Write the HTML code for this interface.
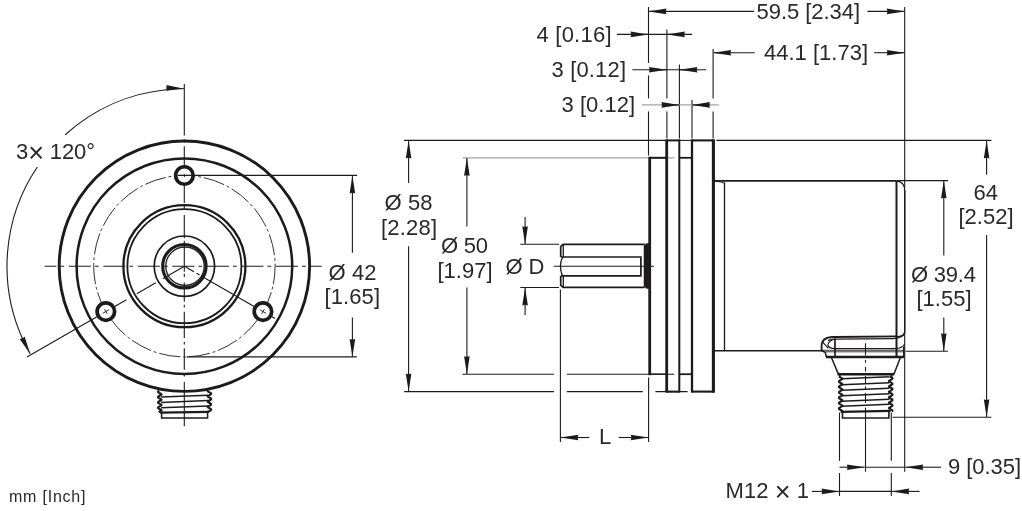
<!DOCTYPE html>
<html lang="en">
<head>
<meta charset="utf-8">
<title>Dimension drawing</title>
<style>
html,body{margin:0;padding:0;background:#fff;}
body{width:1022px;height:511px;overflow:hidden;}
svg{display:block;will-change:transform;}
svg text{font-family:"Liberation Sans",sans-serif;fill:#2b2829;}
</style>
</head>
<body>
<svg width="1022" height="511" viewBox="0 0 1022 511">
<rect x="0" y="0" width="1022" height="511" fill="#ffffff"/>
<line x1="462.6" y1="157.8" x2="674.2" y2="157.8" stroke="#a6a5a5" stroke-width="1.3"/>
<circle cx="184.40" cy="266.20" r="125.20" fill="none" stroke="#1d1a1b" stroke-width="2.9" />
<circle cx="184.40" cy="266.20" r="107.80" fill="none" stroke="#1d1a1b" stroke-width="2.5" />
<circle cx="184.40" cy="266.20" r="90.70" fill="none" stroke="#1d1a1b" stroke-width="0.9" stroke-dasharray="21.4 2.9 2.8 2.9" stroke-dashoffset="3.6"/>
<circle cx="184.40" cy="266.20" r="61.00" fill="none" stroke="#1d1a1b" stroke-width="2.3" />
<circle cx="184.40" cy="266.20" r="57.00" fill="none" stroke="#1d1a1b" stroke-width="1.8" />
<circle cx="184.40" cy="266.20" r="30.20" fill="none" stroke="#1d1a1b" stroke-width="1.7" />
<circle cx="184.40" cy="266.20" r="21.70" fill="none" stroke="#1d1a1b" stroke-width="3.1" />
<circle cx="185.00" cy="266.20" r="19.20" fill="none" stroke="#1d1a1b" stroke-width="1.3" />
<line x1="44.60" y1="266.20" x2="321.70" y2="266.20" stroke="#1d1a1b" stroke-width="1.1" stroke-dasharray="22 4 3.8 4.7" stroke-dashoffset="10.2"/>
<line x1="184.30" y1="84.10" x2="184.30" y2="135.40" stroke="#1d1a1b" stroke-width="1.1" />
<line x1="184.30" y1="139.30" x2="184.30" y2="142.60" stroke="#1d1a1b" stroke-width="1.1" />
<line x1="184.30" y1="146.20" x2="184.30" y2="165.60" stroke="#1d1a1b" stroke-width="1.1" />
<line x1="184.30" y1="185.40" x2="184.30" y2="202.90" stroke="#1d1a1b" stroke-width="1.1" />
<line x1="184.30" y1="206.00" x2="184.30" y2="208.60" stroke="#1d1a1b" stroke-width="1.1" />
<line x1="184.30" y1="215.00" x2="184.30" y2="238.20" stroke="#1d1a1b" stroke-width="1.1" />
<line x1="184.30" y1="240.70" x2="184.30" y2="271.80" stroke="#1d1a1b" stroke-width="1.1" />
<line x1="184.30" y1="273.70" x2="184.30" y2="277.00" stroke="#1d1a1b" stroke-width="1.1" />
<line x1="184.30" y1="282.40" x2="184.30" y2="301.70" stroke="#1d1a1b" stroke-width="1.1" />
<line x1="184.30" y1="304.70" x2="184.30" y2="307.60" stroke="#1d1a1b" stroke-width="1.1" />
<line x1="184.30" y1="311.70" x2="184.30" y2="338.10" stroke="#1d1a1b" stroke-width="1.1" />
<line x1="184.30" y1="341.70" x2="184.30" y2="344.50" stroke="#1d1a1b" stroke-width="1.1" />
<line x1="184.30" y1="348.20" x2="184.30" y2="369.70" stroke="#1d1a1b" stroke-width="1.1" />
<line x1="184.30" y1="373.00" x2="184.30" y2="376.40" stroke="#1d1a1b" stroke-width="1.1" />
<line x1="184.30" y1="382.00" x2="184.30" y2="426.20" stroke="#1d1a1b" stroke-width="1.1" />
<line x1="184.40" y1="266.20" x2="162.75" y2="278.70" stroke="#1d1a1b" stroke-width="1.1" />
<line x1="155.82" y1="282.70" x2="136.77" y2="293.70" stroke="#1d1a1b" stroke-width="1.1" />
<line x1="126.38" y1="299.70" x2="114.25" y2="306.70" stroke="#1d1a1b" stroke-width="1.1" />
<line x1="184.40" y1="266.20" x2="193.93" y2="271.70" stroke="#1d1a1b" stroke-width="1.1" />
<line x1="196.52" y1="273.20" x2="199.56" y2="274.95" stroke="#1d1a1b" stroke-width="1.1" />
<line x1="202.59" y1="276.70" x2="254.55" y2="306.70" stroke="#1d1a1b" stroke-width="1.1" />
<circle cx="184.40" cy="175.50" r="8.75" fill="#fff" stroke="#1d1a1b" stroke-width="3.7"/>
<line x1="184.40" y1="173.90" x2="184.40" y2="177.10" stroke="#1d1a1b" stroke-width="0.9" />
<circle cx="105.85" cy="311.55" r="8.75" fill="#fff" stroke="#1d1a1b" stroke-width="3.7"/>
<line x1="108.97" y1="309.75" x2="102.73" y2="313.35" stroke="#1d1a1b" stroke-width="0.9" />
<line x1="107.15" y1="313.80" x2="104.55" y2="309.30" stroke="#1d1a1b" stroke-width="0.9" />
<circle cx="262.95" cy="311.55" r="8.75" fill="#fff" stroke="#1d1a1b" stroke-width="3.7"/>
<line x1="259.83" y1="309.75" x2="266.07" y2="313.35" stroke="#1d1a1b" stroke-width="0.9" />
<line x1="264.25" y1="309.30" x2="261.65" y2="313.80" stroke="#1d1a1b" stroke-width="0.9" />
<line x1="96.93" y1="316.70" x2="26.96" y2="357.10" stroke="#1d1a1b" stroke-width="1.1" />
<line x1="271.87" y1="316.70" x2="275.16" y2="318.60" stroke="#1d1a1b" stroke-width="1.1" />
<path d="M168.32,89.53 A177.4,177.4 0 0 0 65.24,134.78" fill="none" stroke="#1d1a1b" stroke-width="1.1" />
<path d="M37.33,167.00 A177.4,177.4 0 0 0 23.62,341.17" fill="none" stroke="#1d1a1b" stroke-width="1.1" />
<polygon points="184.10,88.80 165.98,90.65 167.02,87.91 166.27,85.06" fill="#1d1a1b"/>
<line x1="166.12" y1="87.86" x2="183.90" y2="88.79" stroke="#1d1a1b" stroke-width="1.1" />
<polygon points="30.15,353.83 19.61,338.97 22.52,338.52 24.63,336.47" fill="#1d1a1b"/>
<line x1="22.12" y1="337.72" x2="30.06" y2="353.65" stroke="#1d1a1b" stroke-width="1.1" />
<line x1="177.60" y1="175.40" x2="357.20" y2="175.40" stroke="#1d1a1b" stroke-width="1.1" />
<line x1="186.60" y1="356.90" x2="356.80" y2="356.90" stroke="#1d1a1b" stroke-width="1.1" />
<line x1="352.40" y1="190.00" x2="352.40" y2="252.70" stroke="#1d1a1b" stroke-width="1.1" />
<line x1="352.40" y1="317.60" x2="352.40" y2="342.00" stroke="#1d1a1b" stroke-width="1.1" />
<polygon points="352.40,175.40 355.20,193.40 352.40,192.50 349.60,193.40" fill="#1d1a1b"/>
<line x1="352.40" y1="193.40" x2="352.40" y2="175.60" stroke="#1d1a1b" stroke-width="1.1" />
<polygon points="352.40,356.90 349.60,338.90 352.40,339.80 355.20,338.90" fill="#1d1a1b"/>
<line x1="352.40" y1="338.90" x2="352.40" y2="356.70" stroke="#1d1a1b" stroke-width="1.1" />
<polyline points="159.29,390.60 158.54,391.05 158.09,391.50 158.02,391.95 158.35,392.40 159.02,392.85 159.88,393.30 160.76,393.75 161.43,394.20 161.48,394.65 160.85,395.10 159.98,395.55 159.11,396.00 158.41,396.45 158.04,396.90 158.06,397.35 158.48,397.80 159.20,398.25 160.08,398.70 160.93,399.15 161.53,399.60 161.37,400.05 160.67,400.50 159.78,400.95 158.93,401.40 158.30,401.85 158.01,402.30 158.12,402.75 158.61,403.20 159.39,403.65 160.28,404.10 161.10,404.55 161.59,405.00 161.25,405.45 160.48,405.90 159.58,406.35 158.77,406.80 158.20,407.25 158.00,407.70 158.20,408.15 158.77,408.60 159.58,409.05 160.48,409.50 161.25,409.95 161.59,410.40 161.10,410.85 160.28,411.30 159.39,411.75 158.61,412.20" fill="none" stroke="#1d1a1b" stroke-width="2.1" stroke-linejoin="round"/>
<polyline points="208.03,390.60 207.60,391.05 208.03,391.50 208.82,391.95 209.72,392.40 210.51,392.85 211.04,393.30 211.20,393.75 210.95,394.20 210.35,394.65 209.52,395.10 208.63,395.55 207.89,396.00 207.64,396.45 208.18,396.90 209.02,397.35 209.91,397.80 210.66,398.25 211.11,398.70 211.18,399.15 210.85,399.60 210.18,400.05 209.32,400.50 208.44,400.95 207.77,401.40 207.72,401.85 208.35,402.30 209.22,402.75 210.09,403.20 210.79,403.65 211.16,404.10 211.14,404.55 210.72,405.00 210.00,405.45 209.12,405.90 208.27,406.35 207.67,406.80 207.83,407.25 208.53,407.70 209.42,408.15 210.27,408.60 210.90,409.05 211.19,409.50 211.08,409.95 210.59,410.40 209.81,410.85 208.92,411.30 208.10,411.75 207.61,412.20" fill="none" stroke="#1d1a1b" stroke-width="2.1" stroke-linejoin="round"/>
<line x1="161.10" y1="397.10" x2="208.10" y2="395.30" stroke="#1d1a1b" stroke-width="1.5" />
<line x1="161.10" y1="402.40" x2="208.10" y2="400.60" stroke="#1d1a1b" stroke-width="1.5" />
<line x1="161.10" y1="407.70" x2="208.10" y2="405.90" stroke="#1d1a1b" stroke-width="1.5" />
<line x1="160.10" y1="412.60" x2="209.10" y2="411.80" stroke="#1d1a1b" stroke-width="2.3" />
<path d="M161.60,412.6 V418.1 H207.60 V412.2" fill="none" stroke="#1d1a1b" stroke-width="1.5" />
<line x1="649.70" y1="156.80" x2="649.70" y2="375.20" stroke="#1d1a1b" stroke-width="2.8" />
<line x1="649.70" y1="157.80" x2="666.70" y2="157.80" stroke="#1d1a1b" stroke-width="2.0" />
<line x1="649.70" y1="374.20" x2="666.70" y2="374.20" stroke="#1d1a1b" stroke-width="1.4" />
<line x1="666.70" y1="139.40" x2="666.70" y2="392.60" stroke="#1d1a1b" stroke-width="2.8" />
<line x1="666.70" y1="140.40" x2="679.30" y2="140.40" stroke="#1d1a1b" stroke-width="2.0" />
<line x1="666.70" y1="391.60" x2="679.30" y2="391.60" stroke="#1d1a1b" stroke-width="2.0" />
<line x1="679.30" y1="139.40" x2="679.30" y2="392.60" stroke="#1d1a1b" stroke-width="2.0" />
<line x1="679.30" y1="157.80" x2="692.00" y2="157.80" stroke="#1d1a1b" stroke-width="1.8" />
<line x1="679.30" y1="374.20" x2="692.00" y2="374.20" stroke="#1d1a1b" stroke-width="1.8" />
<line x1="692.00" y1="139.40" x2="692.00" y2="392.60" stroke="#1d1a1b" stroke-width="2.3" />
<line x1="692.00" y1="140.40" x2="713.40" y2="140.40" stroke="#1d1a1b" stroke-width="2.1" />
<line x1="692.00" y1="391.60" x2="713.40" y2="391.60" stroke="#1d1a1b" stroke-width="2.1" />
<line x1="713.40" y1="139.30" x2="713.40" y2="392.70" stroke="#1d1a1b" stroke-width="3.1" />
<path d="M713.40,180.8 H896.50" fill="none" stroke="#1d1a1b" stroke-width="1.8" />
<path d="M895.50,180.8 Q904.80,181.10000000000002 904.80,190.80" fill="none" stroke="#1d1a1b" stroke-width="1.3" />
<path d="M904.80,190.30 V331.5 Q904.80,336.6 896.50,336.8" fill="none" stroke="#1d1a1b" stroke-width="1.6" />
<line x1="896.50" y1="181.30" x2="896.50" y2="356.50" stroke="#1d1a1b" stroke-width="2.0" />
<line x1="713.40" y1="350.80" x2="823.00" y2="350.80" stroke="#1d1a1b" stroke-width="1.6" />
<line x1="724.50" y1="182.30" x2="724.50" y2="350.80" stroke="#1d1a1b" stroke-width="1.3" />
<path d="M714.40,181.4 Q723.5,181.60000000000002 724.5,183.8" fill="none" stroke="#1d1a1b" stroke-width="1.0" />
<path d="M644.8,244.4 H563.1 L560.7,246.7 V257.0 M560.7,275.9 V285.1 L563.1,287.4 H644.8" fill="none" stroke="#1d1a1b" stroke-width="1.7" />
<line x1="563.30" y1="244.40" x2="563.30" y2="257.00" stroke="#1d1a1b" stroke-width="1.3" />
<line x1="563.30" y1="275.90" x2="563.30" y2="287.40" stroke="#1d1a1b" stroke-width="1.3" />
<path d="M561.0,257.0 H640.9 V275.9 H561.0" fill="none" stroke="#1d1a1b" stroke-width="1.7" />
<path d="M562.6,257.0 Q558.2,266.4 562.6,275.9" fill="none" stroke="#1d1a1b" stroke-width="1.3" />
<path d="M644.0,245.6 L646.6,243.4 H649.5 V288.4 H646.6 L644.0,286.2 Z" fill="#1d1a1b" stroke="#1d1a1b" stroke-width="0.5" />
<line x1="553.70" y1="266.30" x2="654.00" y2="266.30" stroke="#1d1a1b" stroke-width="1.1" />
<path d="M821.6,351.0 V345.8 Q821.8,337.3 833.2,337.0 L896.5,336.3" fill="none" stroke="#1d1a1b" stroke-width="1.8" />
<path d="M821.6,350.8 L825.3,352.4 L826.3,357.0" fill="none" stroke="#1d1a1b" stroke-width="1.5" />
<path d="M828.0,340.6 Q830.5,339.2 834.5,339.1 L893.0,338.6 Q903.6,338.3 904.7,332.5" fill="none" stroke="#1d1a1b" stroke-width="1.3" />
<path d="M835.8,338.8 Q828.6,340.6 827.8,345.0 Q828.6,348.4 835.2,348.6 H894.5 Q903.6,348.4 904.6,343.6" fill="none" stroke="#1d1a1b" stroke-width="1.1" />
<path d="M823.0,342.4 L828.3,348.3" fill="none" stroke="#1d1a1b" stroke-width="1.2" />
<line x1="822.00" y1="350.30" x2="904.70" y2="350.30" stroke="#1d1a1b" stroke-width="0.85" />
<line x1="825.50" y1="351.80" x2="904.00" y2="351.80" stroke="#1d1a1b" stroke-width="0.85" />
<line x1="835.00" y1="339.00" x2="835.00" y2="356.50" stroke="#1d1a1b" stroke-width="1.7" />
<line x1="826.00" y1="357.00" x2="903.80" y2="357.00" stroke="#1d1a1b" stroke-width="2.6" />
<line x1="903.70" y1="347.00" x2="903.70" y2="357.40" stroke="#1d1a1b" stroke-width="1.4" />
<line x1="831.20" y1="357.00" x2="838.30" y2="373.90" stroke="#1d1a1b" stroke-width="1.5" />
<line x1="900.60" y1="357.00" x2="894.00" y2="373.90" stroke="#1d1a1b" stroke-width="1.5" />
<line x1="837.40" y1="374.20" x2="894.40" y2="374.20" stroke="#1d1a1b" stroke-width="2.6" />
<polyline points="839.05,376.50 839.56,376.95 840.34,377.40 841.22,377.85 842.01,378.30 842.49,378.75 842.16,379.20 841.41,379.65 840.53,380.10 839.72,380.55 839.14,381.00 838.90,381.45 839.05,381.90 839.56,382.35 840.34,382.80 841.22,383.25 842.01,383.70 842.49,384.15 842.16,384.60 841.41,385.05 840.53,385.50 839.72,385.95 839.14,386.40 838.90,386.85 839.05,387.30 839.56,387.75 840.34,388.20 841.22,388.65 842.01,389.10 842.49,389.55 842.16,390.00 841.41,390.45 840.53,390.90 839.72,391.35 839.14,391.80 838.90,392.25 839.05,392.70 839.56,393.15 840.34,393.60 841.22,394.05 842.01,394.50 842.49,394.95 842.16,395.40 841.41,395.85 840.53,396.30 839.72,396.75 839.14,397.20 838.90,397.65 839.05,398.10 839.56,398.55 840.34,399.00 841.22,399.45 842.01,399.90 842.49,400.35 842.16,400.80 841.41,401.25 840.53,401.70 839.72,402.15 839.14,402.60 838.90,403.05 839.05,403.50 839.56,403.95 840.34,404.40 841.22,404.85 842.01,405.30 842.49,405.75 842.16,406.20 841.41,406.65 840.53,407.10 839.72,407.55 839.14,408.00 838.90,408.45 839.05,408.90 839.56,409.35 840.34,409.80 841.22,410.25 842.01,410.70 842.49,411.15 842.16,411.60" fill="none" stroke="#1d1a1b" stroke-width="2.1" stroke-linejoin="round"/>
<polyline points="889.90,376.50 890.77,376.95 891.60,377.40 892.21,377.85 892.49,378.30 892.38,378.75 891.91,379.20 891.16,379.65 890.28,380.10 889.47,380.55 888.94,381.00 889.18,381.45 889.90,381.90 890.77,382.35 891.60,382.80 892.21,383.25 892.49,383.70 892.38,384.15 891.91,384.60 891.16,385.05 890.28,385.50 889.47,385.95 888.94,386.40 889.18,386.85 889.90,387.30 890.77,387.75 891.60,388.20 892.21,388.65 892.49,389.10 892.38,389.55 891.91,390.00 891.16,390.45 890.28,390.90 889.47,391.35 888.94,391.80 889.18,392.25 889.90,392.70 890.77,393.15 891.60,393.60 892.21,394.05 892.49,394.50 892.38,394.95 891.91,395.40 891.16,395.85 890.28,396.30 889.47,396.75 888.94,397.20 889.18,397.65 889.90,398.10 890.77,398.55 891.60,399.00 892.21,399.45 892.49,399.90 892.38,400.35 891.91,400.80 891.16,401.25 890.28,401.70 889.47,402.15 888.94,402.60 889.18,403.05 889.90,403.50 890.77,403.95 891.60,404.40 892.21,404.85 892.49,405.30 892.38,405.75 891.91,406.20 891.16,406.65 890.28,407.10 889.47,407.55 888.94,408.00 889.18,408.45 889.90,408.90 890.77,409.35 891.60,409.80 892.21,410.25 892.49,410.70 892.38,411.15 891.91,411.60" fill="none" stroke="#1d1a1b" stroke-width="2.1" stroke-linejoin="round"/>
<line x1="842.00" y1="378.80" x2="889.40" y2="376.80" stroke="#1d1a1b" stroke-width="1.5" />
<line x1="842.00" y1="384.70" x2="889.40" y2="382.70" stroke="#1d1a1b" stroke-width="1.5" />
<line x1="842.00" y1="390.30" x2="889.40" y2="388.30" stroke="#1d1a1b" stroke-width="1.5" />
<line x1="842.00" y1="395.80" x2="889.40" y2="393.80" stroke="#1d1a1b" stroke-width="1.5" />
<line x1="842.00" y1="401.20" x2="889.40" y2="399.20" stroke="#1d1a1b" stroke-width="1.5" />
<line x1="842.00" y1="406.30" x2="889.40" y2="404.30" stroke="#1d1a1b" stroke-width="1.5" />
<line x1="839.80" y1="374.50" x2="839.80" y2="378.00" stroke="#1d1a1b" stroke-width="1.5" />
<line x1="891.60" y1="374.50" x2="891.60" y2="377.00" stroke="#1d1a1b" stroke-width="1.5" />
<line x1="840.70" y1="411.80" x2="890.70" y2="410.80" stroke="#1d1a1b" stroke-width="2.2" />
<path d="M842.50,411.6 V418.0 H888.90 V411.2" fill="none" stroke="#1d1a1b" stroke-width="1.6" />
<line x1="865.50" y1="343.30" x2="865.50" y2="355.60" stroke="#1d1a1b" stroke-width="1.1" />
<line x1="865.50" y1="360.00" x2="865.50" y2="362.70" stroke="#1d1a1b" stroke-width="1.1" />
<line x1="865.50" y1="367.00" x2="865.50" y2="371.60" stroke="#1d1a1b" stroke-width="1.1" />
<line x1="865.50" y1="376.00" x2="865.50" y2="383.00" stroke="#1d1a1b" stroke-width="1.1" />
<line x1="865.50" y1="386.50" x2="865.50" y2="389.50" stroke="#1d1a1b" stroke-width="1.1" />
<line x1="865.50" y1="393.00" x2="865.50" y2="403.00" stroke="#1d1a1b" stroke-width="1.1" />
<line x1="865.50" y1="407.50" x2="865.50" y2="471.80" stroke="#1d1a1b" stroke-width="1.1" />
<line x1="648.50" y1="7.00" x2="648.50" y2="62.90" stroke="#1d1a1b" stroke-width="1.1" />
<line x1="648.50" y1="75.40" x2="648.50" y2="98.40" stroke="#1d1a1b" stroke-width="1.1" />
<line x1="648.50" y1="111.40" x2="648.50" y2="155.50" stroke="#1d1a1b" stroke-width="1.1" />
<line x1="666.90" y1="29.60" x2="666.90" y2="98.40" stroke="#1d1a1b" stroke-width="1.1" />
<line x1="666.90" y1="111.40" x2="666.90" y2="138.50" stroke="#1d1a1b" stroke-width="1.1" />
<line x1="679.40" y1="64.60" x2="679.40" y2="138.50" stroke="#1d1a1b" stroke-width="1.1" />
<line x1="692.00" y1="100.00" x2="692.00" y2="138.50" stroke="#1d1a1b" stroke-width="1.1" />
<line x1="713.10" y1="49.00" x2="713.10" y2="98.40" stroke="#1d1a1b" stroke-width="1.1" />
<line x1="713.10" y1="111.40" x2="713.10" y2="138.50" stroke="#1d1a1b" stroke-width="1.1" />
<line x1="904.70" y1="7.00" x2="904.70" y2="188.00" stroke="#1d1a1b" stroke-width="1.1" />
<line x1="404.00" y1="140.40" x2="666.70" y2="140.40" stroke="#1d1a1b" stroke-width="1.1" />
<line x1="679.30" y1="140.40" x2="692.00" y2="140.40" stroke="#1d1a1b" stroke-width="1.1" />
<line x1="716.40" y1="140.40" x2="991.40" y2="140.40" stroke="#1d1a1b" stroke-width="1.1" />
<line x1="404.20" y1="391.60" x2="554.00" y2="391.60" stroke="#1d1a1b" stroke-width="1.1" />
<line x1="566.80" y1="391.60" x2="642.80" y2="391.60" stroke="#1d1a1b" stroke-width="1.1" />
<line x1="655.40" y1="391.60" x2="687.60" y2="391.60" stroke="#1d1a1b" stroke-width="1.1" />
<line x1="462.40" y1="374.20" x2="554.00" y2="374.20" stroke="#1d1a1b" stroke-width="1.1" />
<line x1="566.80" y1="374.20" x2="674.20" y2="374.20" stroke="#1d1a1b" stroke-width="1.1" />
<line x1="650.00" y1="11.40" x2="754.00" y2="11.40" stroke="#1d1a1b" stroke-width="1.1" />
<line x1="867.50" y1="11.40" x2="903.00" y2="11.40" stroke="#1d1a1b" stroke-width="1.1" />
<polygon points="648.50,11.40 666.50,8.60 665.60,11.40 666.50,14.20" fill="#1d1a1b"/>
<line x1="666.50" y1="11.40" x2="648.70" y2="11.40" stroke="#1d1a1b" stroke-width="1.1" />
<polygon points="904.70,11.40 886.70,14.20 887.60,11.40 886.70,8.60" fill="#1d1a1b"/>
<line x1="886.70" y1="11.40" x2="904.50" y2="11.40" stroke="#1d1a1b" stroke-width="1.1" />
<line x1="715.00" y1="52.70" x2="754.80" y2="52.70" stroke="#1d1a1b" stroke-width="1.1" />
<line x1="874.20" y1="52.70" x2="903.00" y2="52.70" stroke="#1d1a1b" stroke-width="1.1" />
<polygon points="713.10,52.70 731.10,49.90 730.20,52.70 731.10,55.50" fill="#1d1a1b"/>
<line x1="731.10" y1="52.70" x2="713.30" y2="52.70" stroke="#1d1a1b" stroke-width="1.1" />
<polygon points="904.70,52.70 886.70,55.50 887.60,52.70 886.70,49.90" fill="#1d1a1b"/>
<line x1="886.70" y1="52.70" x2="904.50" y2="52.70" stroke="#1d1a1b" stroke-width="1.1" />
<line x1="617.00" y1="34.40" x2="692.20" y2="34.40" stroke="#1d1a1b" stroke-width="1.1" />
<polygon points="648.50,34.40 630.50,37.20 631.40,34.40 630.50,31.60" fill="#1d1a1b"/>
<line x1="630.50" y1="34.40" x2="648.30" y2="34.40" stroke="#1d1a1b" stroke-width="1.1" />
<polygon points="666.90,34.40 684.90,31.60 684.00,34.40 684.90,37.20" fill="#1d1a1b"/>
<line x1="684.90" y1="34.40" x2="667.10" y2="34.40" stroke="#1d1a1b" stroke-width="1.1" />
<line x1="632.30" y1="69.70" x2="706.00" y2="69.70" stroke="#1d1a1b" stroke-width="1.1" />
<polygon points="666.90,69.70 648.90,72.50 649.80,69.70 648.90,66.90" fill="#1d1a1b"/>
<line x1="648.90" y1="69.70" x2="666.70" y2="69.70" stroke="#1d1a1b" stroke-width="1.1" />
<polygon points="679.40,69.70 697.40,66.90 696.50,69.70 697.40,72.50" fill="#1d1a1b"/>
<line x1="697.40" y1="69.70" x2="679.60" y2="69.70" stroke="#1d1a1b" stroke-width="1.1" />
<line x1="642.00" y1="104.90" x2="718.80" y2="104.90" stroke="#a6a5a5" stroke-width="1.1" />
<polygon points="679.40,104.90 661.40,107.70 662.30,104.90 661.40,102.10" fill="#1d1a1b"/>
<line x1="661.40" y1="104.90" x2="679.20" y2="104.90" stroke="#1d1a1b" stroke-width="1.1" />
<polygon points="692.00,104.90 710.00,102.10 709.10,104.90 710.00,107.70" fill="#1d1a1b"/>
<line x1="710.00" y1="104.90" x2="692.20" y2="104.90" stroke="#1d1a1b" stroke-width="1.1" />
<line x1="408.60" y1="156.00" x2="408.60" y2="183.00" stroke="#1d1a1b" stroke-width="1.1" />
<line x1="408.60" y1="246.20" x2="408.60" y2="376.00" stroke="#1d1a1b" stroke-width="1.1" />
<polygon points="408.60,140.40 411.40,158.40 408.60,157.50 405.80,158.40" fill="#1d1a1b"/>
<line x1="408.60" y1="158.40" x2="408.60" y2="140.60" stroke="#1d1a1b" stroke-width="1.1" />
<polygon points="408.60,391.60 405.80,373.60 408.60,374.50 411.40,373.60" fill="#1d1a1b"/>
<line x1="408.60" y1="373.60" x2="408.60" y2="391.40" stroke="#1d1a1b" stroke-width="1.1" />
<line x1="466.90" y1="173.00" x2="466.90" y2="226.40" stroke="#1d1a1b" stroke-width="1.1" />
<line x1="466.90" y1="287.60" x2="466.90" y2="359.00" stroke="#1d1a1b" stroke-width="1.1" />
<polygon points="466.90,157.80 469.70,175.80 466.90,174.90 464.10,175.80" fill="#1d1a1b"/>
<line x1="466.90" y1="175.80" x2="466.90" y2="158.00" stroke="#1d1a1b" stroke-width="1.1" />
<polygon points="466.90,374.20 464.10,356.20 466.90,357.10 469.70,356.20" fill="#1d1a1b"/>
<line x1="466.90" y1="356.20" x2="466.90" y2="374.00" stroke="#1d1a1b" stroke-width="1.1" />
<line x1="520.30" y1="244.30" x2="559.00" y2="244.30" stroke="#1d1a1b" stroke-width="1.1" />
<line x1="520.30" y1="287.50" x2="559.00" y2="287.50" stroke="#1d1a1b" stroke-width="1.1" />
<line x1="525.10" y1="217.00" x2="525.10" y2="229.00" stroke="#1d1a1b" stroke-width="1.1" />
<line x1="525.10" y1="303.00" x2="525.10" y2="315.00" stroke="#1d1a1b" stroke-width="1.1" />
<polygon points="525.10,244.30 522.30,226.30 525.10,227.20 527.90,226.30" fill="#1d1a1b"/>
<line x1="525.10" y1="226.30" x2="525.10" y2="244.10" stroke="#1d1a1b" stroke-width="1.1" />
<polygon points="525.10,287.50 527.90,305.50 525.10,304.60 522.30,305.50" fill="#1d1a1b"/>
<line x1="525.10" y1="305.50" x2="525.10" y2="287.70" stroke="#1d1a1b" stroke-width="1.1" />
<line x1="560.40" y1="289.60" x2="560.40" y2="442.00" stroke="#1d1a1b" stroke-width="1.1" />
<line x1="648.60" y1="377.40" x2="648.60" y2="442.00" stroke="#1d1a1b" stroke-width="1.1" />
<line x1="576.00" y1="437.50" x2="589.30" y2="437.50" stroke="#1d1a1b" stroke-width="1.1" />
<line x1="618.70" y1="437.50" x2="633.00" y2="437.50" stroke="#1d1a1b" stroke-width="1.1" />
<polygon points="560.40,437.50 578.40,434.70 577.50,437.50 578.40,440.30" fill="#1d1a1b"/>
<line x1="578.40" y1="437.50" x2="560.60" y2="437.50" stroke="#1d1a1b" stroke-width="1.1" />
<polygon points="648.60,437.50 630.60,440.30 631.50,437.50 630.60,434.70" fill="#1d1a1b"/>
<line x1="630.60" y1="437.50" x2="648.40" y2="437.50" stroke="#1d1a1b" stroke-width="1.1" />
<line x1="897.00" y1="180.60" x2="948.00" y2="180.60" stroke="#1d1a1b" stroke-width="1.1" />
<line x1="905.50" y1="351.30" x2="948.00" y2="351.30" stroke="#1d1a1b" stroke-width="1.1" />
<line x1="943.80" y1="196.00" x2="943.80" y2="255.40" stroke="#1d1a1b" stroke-width="1.1" />
<line x1="943.80" y1="317.50" x2="943.80" y2="335.00" stroke="#1d1a1b" stroke-width="1.1" />
<polygon points="943.80,180.50 946.60,198.50 943.80,197.60 941.00,198.50" fill="#1d1a1b"/>
<line x1="943.80" y1="198.50" x2="943.80" y2="180.70" stroke="#1d1a1b" stroke-width="1.1" />
<polygon points="943.80,351.30 941.00,333.30 943.80,334.20 946.60,333.30" fill="#1d1a1b"/>
<line x1="943.80" y1="333.30" x2="943.80" y2="351.10" stroke="#1d1a1b" stroke-width="1.1" />
<line x1="986.60" y1="156.00" x2="986.60" y2="174.70" stroke="#1d1a1b" stroke-width="1.1" />
<line x1="986.60" y1="235.00" x2="986.60" y2="401.00" stroke="#1d1a1b" stroke-width="1.1" />
<polygon points="986.60,140.40 989.40,158.40 986.60,157.50 983.80,158.40" fill="#1d1a1b"/>
<line x1="986.60" y1="158.40" x2="986.60" y2="140.60" stroke="#1d1a1b" stroke-width="1.1" />
<polygon points="986.60,417.30 983.80,399.30 986.60,400.20 989.40,399.30" fill="#1d1a1b"/>
<line x1="986.60" y1="399.30" x2="986.60" y2="417.10" stroke="#1d1a1b" stroke-width="1.1" />
<line x1="892.50" y1="417.30" x2="991.40" y2="417.30" stroke="#1d1a1b" stroke-width="1.1" />
<line x1="839.50" y1="412.50" x2="839.50" y2="460.80" stroke="#1d1a1b" stroke-width="1.1" />
<line x1="839.50" y1="473.10" x2="839.50" y2="496.00" stroke="#1d1a1b" stroke-width="1.1" />
<line x1="891.30" y1="412.50" x2="891.30" y2="460.80" stroke="#1d1a1b" stroke-width="1.1" />
<line x1="891.30" y1="473.10" x2="891.30" y2="496.00" stroke="#1d1a1b" stroke-width="1.1" />
<line x1="904.70" y1="333.00" x2="904.70" y2="471.80" stroke="#1d1a1b" stroke-width="1.1" />
<line x1="839.50" y1="467.20" x2="850.00" y2="467.20" stroke="#1d1a1b" stroke-width="1.1" />
<line x1="865.30" y1="467.20" x2="904.70" y2="467.20" stroke="#1d1a1b" stroke-width="1.1" />
<line x1="920.00" y1="467.20" x2="941.00" y2="467.20" stroke="#1d1a1b" stroke-width="1.1" />
<polygon points="864.90,467.20 846.90,470.00 847.80,467.20 846.90,464.40" fill="#1d1a1b"/>
<line x1="846.90" y1="467.20" x2="864.70" y2="467.20" stroke="#1d1a1b" stroke-width="1.1" />
<polygon points="905.20,467.20 923.20,464.40 922.30,467.20 923.20,470.00" fill="#1d1a1b"/>
<line x1="923.20" y1="467.20" x2="905.40" y2="467.20" stroke="#1d1a1b" stroke-width="1.1" />
<line x1="811.80" y1="491.40" x2="824.00" y2="491.40" stroke="#1d1a1b" stroke-width="1.1" />
<line x1="839.50" y1="491.40" x2="891.30" y2="491.40" stroke="#1d1a1b" stroke-width="1.1" />
<line x1="906.00" y1="491.40" x2="919.60" y2="491.40" stroke="#1d1a1b" stroke-width="1.1" />
<polygon points="839.50,491.40 821.50,494.20 822.40,491.40 821.50,488.60" fill="#1d1a1b"/>
<line x1="821.50" y1="491.40" x2="839.30" y2="491.40" stroke="#1d1a1b" stroke-width="1.1" />
<polygon points="891.30,491.40 909.30,488.60 908.40,491.40 909.30,494.20" fill="#1d1a1b"/>
<line x1="909.30" y1="491.40" x2="891.50" y2="491.40" stroke="#1d1a1b" stroke-width="1.1" />
<text x="16.00" y="159.05" font-size="22" textLength="79.00" lengthAdjust="spacing">3<tspan font-size="27" dy="3.4">×</tspan><tspan dy="-3.4"> 120°</tspan></text>
<text x="328.50" y="280.25" font-size="22" textLength="48.00" lengthAdjust="spacing">Ø 42</text>
<text x="324.50" y="304.25" font-size="22" textLength="55.50" lengthAdjust="spacing">[1.65]</text>
<text x="756.50" y="18.95" font-size="22" textLength="103.50" lengthAdjust="spacing">59.5 [2.34]</text>
<text x="764.00" y="60.25" font-size="22" textLength="104.00" lengthAdjust="spacing">44.1 [1.73]</text>
<text x="536.50" y="41.95" font-size="22" textLength="75.00" lengthAdjust="spacing">4 [0.16]</text>
<text x="551.50" y="77.15" font-size="22" textLength="74.50" lengthAdjust="spacing">3 [0.12]</text>
<text x="561.50" y="112.35" font-size="22" textLength="73.50" lengthAdjust="spacing">3 [0.12]</text>
<text x="384.50" y="210.15" font-size="22" textLength="48.00" lengthAdjust="spacing">Ø 58</text>
<text x="381.00" y="234.55" font-size="22" textLength="56.00" lengthAdjust="spacing">[2.28]</text>
<text x="441.00" y="253.15" font-size="22" textLength="47.00" lengthAdjust="spacing">Ø 50</text>
<text x="437.50" y="278.15" font-size="22" textLength="55.00" lengthAdjust="spacing">[1.97]</text>
<text x="505.50" y="274.15" font-size="22" textLength="39.00" lengthAdjust="spacing">Ø D</text>
<text x="599.00" y="444.45" font-size="22">L</text>
<text x="911.00" y="282.15" font-size="22" textLength="65.00" lengthAdjust="spacing">Ø 39.4</text>
<text x="916.50" y="306.25" font-size="22" textLength="55.00" lengthAdjust="spacing">[1.55]</text>
<text x="973.50" y="199.65" font-size="22" textLength="24.50" lengthAdjust="spacing">64</text>
<text x="958.50" y="224.15" font-size="22" textLength="55.00" lengthAdjust="spacing">[2.52]</text>
<text x="948.00" y="473.75" font-size="22" textLength="73.00" lengthAdjust="spacing">9 [0.35]</text>
<text x="725.50" y="498.05" font-size="22" textLength="83.50" lengthAdjust="spacing">M12 <tspan font-size="27" dy="3.4">×</tspan><tspan dy="-3.4"> 1</tspan></text>
<text x="9.00" y="502.05" font-size="16" textLength="76.50" lengthAdjust="spacing">mm [Inch]</text>
</svg>
</body>
</html>
